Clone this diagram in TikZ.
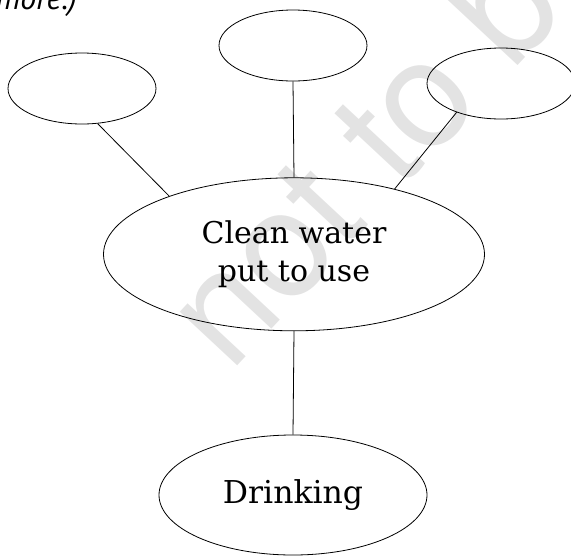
\documentclass[tikz,border=0pt]{standalone}
\usepackage{fontspec}
\setmainfont{DejaVu Serif}
\newfontfamily\wmfont{TeX Gyre Heros}
\newfontfamily\notefont{PT Sans}
\usetikzlibrary{shapes.geometric}
\begin{document}
\begin{tikzpicture}[x=1pt,y=-1pt,
  bubble/.style={ellipse,draw,line width=0.8pt,inner sep=0pt},
  conn/.style={draw,line width=0.8pt},
  bigtext/.style={font=\fontsize{30}{38}\selectfont,align=center}]
\useasboundingbox (0,0) rectangle (571,555);
\clip (0,0) rectangle (571,555);
% watermark
\node[rotate=47, anchor=base west, text=black!11, inner sep=0pt,
      font=\wmfont\fontsize{150}{150}\selectfont] (wm) at (230,374) {not to be republished};
% clipped note at top left
\node[anchor=base east, inner sep=0pt,
      font=\notefont\itshape\fontsize{32}{32}\selectfont] (note) at (77,9.5) {more.)};
% bubbles
\node[bubble, minimum width=148pt, minimum height=71pt] (L) at (82,88.5) {};
\node[bubble, minimum width=148pt, minimum height=71pt] (T) at (293,45.5) {};
\node[bubble, minimum width=148pt, minimum height=71pt] (R) at (501,83.5) {};
\node[bubble, bigtext, minimum width=381pt, minimum height=153pt] (C) at (294,254.3) {Clean water\\put to use};
\node[bubble, bigtext, font=\fontsize{31.5}{38}\selectfont, minimum width=268pt, minimum height=120pt] (D) at (293,495) {Drinking};
% connectors
\draw[conn] (L.-66) -- (C.155);
\draw[conn] (T.south) -- (C.north);
\draw[conn] (R.213) -- (C.33);
\draw[conn] (C.south) -- (D.north);
\end{tikzpicture}
\end{document}
